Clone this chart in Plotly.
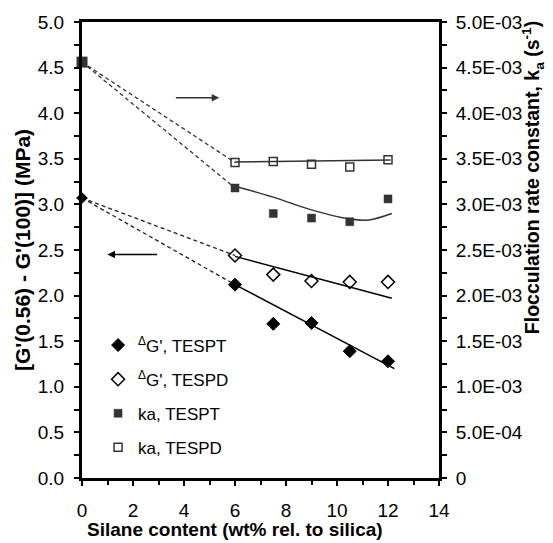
import plotly.graph_objects as go

# ---- data ----
silane = [0, 6, 7.5, 9, 10.5, 12]
dG_TESPT = [3.07, 2.12, 1.69, 1.70, 1.39, 1.28]
dG_TESPD = [3.07, 2.44, 2.23, 2.16, 2.15, 2.15]
ka_TESPT = [4.56e-3, 3.18e-3, 2.90e-3, 2.85e-3, 2.81e-3, 3.06e-3]
ka_TESPD = [4.56e-3, 3.46e-3, 3.47e-3, 3.44e-3, 3.41e-3, 3.49e-3]

# trend lines
fit_dG_TESPT_x = [6, 12.25]
fit_dG_TESPT_y = [2.12, 1.20]
fit_dG_TESPD_x = [6, 12.15]
fit_dG_TESPD_y = [2.43, 1.97]
fit_ka_TESPT_x = [6, 7.5, 9, 10.5, 11.25, 12.15]
fit_ka_TESPT_y = [3.20e-3, 3.08e-3, 2.94e-3, 2.84e-3, 2.83e-3, 2.90e-3]
fit_ka_TESPD_x = [6, 12.1]
fit_ka_TESPD_y = [3.465e-3, 3.487e-3]

left_ticks = [0, 0.5, 1, 1.5, 2, 2.5, 3, 3.5, 4, 4.5, 5]
left_ticktext = ["0.0", "0.5", "1.0", "1.5", "2.0", "2.5", "3.0", "3.5", "4.0", "4.5", "5.0"]
right_ticks = [0, 5e-4, 1e-3, 1.5e-3, 2e-3, 2.5e-3, 3e-3, 3.5e-3, 4e-3, 4.5e-3, 5e-3]
right_ticktext = ["0", "5.0E-04", "1.0E-03", "1.5E-03", "2.0E-03", "2.5E-03",
                  "3.0E-03", "3.5E-03", "4.0E-03", "4.5E-03", "5.0E-03"]

x_title = "<b>Silane content (wt% rel. to silica)</b>"
y_title = "<b>[G'(0.56) - G'(100)] (MPa)</b>"
y2_title = "<b>Flocculation rate constant, k<sub>a</sub> (s<sup>-1</sup>)</b>"

FONT = "Liberation Sans, Arial, sans-serif"
DARK = "#333333"

fig = go.Figure()

# dashed extrapolation lines from x=0 to first measured point
for ys, yax, col in [(dG_TESPD, "y", "#222222"), (dG_TESPT, "y", "#222222"),
                     (ka_TESPD, "y2", DARK), (ka_TESPT, "y2", DARK)]:
    fig.add_trace(go.Scatter(x=[silane[0], silane[1]], y=[ys[0], ys[1]], yaxis=yax,
                             mode="lines", line=dict(color=col, width=1.3, dash="4px,3px"),
                             showlegend=False, hoverinfo="skip"))

# trend lines
fig.add_trace(go.Scatter(x=fit_dG_TESPT_x, y=fit_dG_TESPT_y, mode="lines",
                         line=dict(color="black", width=1.5), showlegend=False))
fig.add_trace(go.Scatter(x=fit_dG_TESPD_x, y=fit_dG_TESPD_y, mode="lines",
                         line=dict(color="black", width=1.5), showlegend=False))
fig.add_trace(go.Scatter(x=fit_ka_TESPT_x, y=fit_ka_TESPT_y, yaxis="y2", mode="lines",
                         line=dict(color=DARK, width=1.5, shape="spline"), showlegend=False))
fig.add_trace(go.Scatter(x=fit_ka_TESPD_x, y=fit_ka_TESPD_y, yaxis="y2", mode="lines",
                         line=dict(color=DARK, width=1.5), showlegend=False))

# markers
fig.add_trace(go.Scatter(x=silane[1:], y=dG_TESPT[1:], mode="markers", name="<sup>Δ</sup>G', TESPT",
                         legendgroup="a", marker=dict(symbol="diamond", size=10, color="black",
                                                      line=dict(color="black", width=1)),
                         cliponaxis=False))
fig.add_trace(go.Scatter(x=silane[1:], y=dG_TESPD[1:], mode="markers", name="<sup>Δ</sup>G', TESPD",
                         legendgroup="b", marker=dict(symbol="diamond-open", size=10, color="black",
                                                      line=dict(color="black", width=1.5)),
                         cliponaxis=False))
fig.add_trace(go.Scatter(x=silane[1:], y=ka_TESPT[1:], yaxis="y2", mode="markers", name="ka, TESPT",
                         legendgroup="c", marker=dict(symbol="square", size=8, color=DARK,
                                                      line=dict(color=DARK, width=0.5)),
                         cliponaxis=False))
fig.add_trace(go.Scatter(x=silane[1:], y=ka_TESPD[1:], yaxis="y2", mode="markers", name="ka, TESPD",
                         legendgroup="d", marker=dict(symbol="square-open", size=8, color=DARK,
                                                      line=dict(color=DARK, width=1.5)),
                         cliponaxis=False))
# shared points at zero silane
fig.add_trace(go.Scatter(x=[silane[0]], y=[dG_TESPT[0]], mode="markers", showlegend=False,
                         marker=dict(symbol="diamond", size=9, color="black"), cliponaxis=False))
fig.add_trace(go.Scatter(x=[silane[0]], y=[ka_TESPT[0]], yaxis="y2", mode="markers", showlegend=False,
                         marker=dict(symbol="square", size=11, color=DARK), cliponaxis=False))

# direction arrows
arrow_left = dict(x=1.0, y=2.45, ax=3.0, ay=2.45)
arrow_right = dict(x=5.38, y=4.17, ax=3.62, ay=4.17)
for a, col in [(arrow_left, "black"), (arrow_right, DARK)]:
    fig.add_annotation(x=a["x"], y=a["y"], ax=a["ax"], ay=a["ay"], xref="x", yref="y",
                       axref="x", ayref="y", text="", showarrow=True, arrowhead=2,
                       arrowsize=1, arrowwidth=1.5, arrowcolor=col)

# axis titles placed as in the reference (not centred on the plot)
fig.add_annotation(text=x_title, xref="paper", yref="paper", x=0.4286, y=-0.114,
                   xanchor="center", yanchor="middle", showarrow=False,
                   font=dict(family=FONT, size=19, color="black"))
fig.add_annotation(text=y2_title, xref="paper", yref="paper", x=1.264, y=0.658,
                   xanchor="center", yanchor="middle", showarrow=False, textangle=-90,
                   font=dict(family=FONT, size=19.5, color="black"))

axis_common = dict(showline=True, linecolor="black", linewidth=3, ticks="outside",
                   ticklen=5, tickwidth=2, tickcolor="black", showgrid=False, zeroline=False,
                   automargin=False,
                   tickfont=dict(family=FONT, size=19, color="black"))

fig.update_layout(
    width=553, height=543,
    margin=dict(l=82, r=114, t=22, b=65),
    paper_bgcolor="white", plot_bgcolor="white",
    font=dict(family=FONT, size=17, color="black"),
    xaxis=dict(range=[0, 14], tickvals=[0, 2, 4, 6, 8, 10, 12, 14], mirror=True,
               minor=dict(dtick=1, ticks="outside", ticklen=4, tickwidth=2, tickcolor="black"),
               ticklabelstandoff=8, **axis_common),
    yaxis=dict(range=[0, 5], tickvals=left_ticks, ticktext=left_ticktext,
               minor=dict(dtick=0.25, ticks="outside", ticklen=5, tickwidth=2, tickcolor="black"),
               title=dict(text=y_title, font=dict(family=FONT, size=21), standoff=2),
               ticklabelstandoff=6, **axis_common),
    yaxis2=dict(range=[0, 0.005], overlaying="y", side="right", tickvals=right_ticks,
                ticktext=right_ticktext,
                minor=dict(dtick=2.5e-4, ticks="outside", ticklen=5, tickwidth=2, tickcolor="black"),
                ticklabelstandoff=5, **axis_common),
    legend=dict(x=0.045, y=0.33, xanchor="left", yanchor="top", bgcolor="rgba(0,0,0,0)",
                font=dict(family=FONT, size=17, color="black"), tracegroupgap=9,
                itemsizing="trace"),
    showlegend=True,
)

fig.write_html("out.html")
